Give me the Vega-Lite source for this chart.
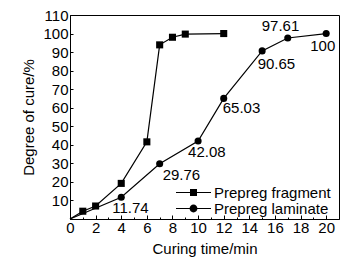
{
  "$schema": "https://vega.github.io/schema/vega-lite/v6.json",
  "width": 269,
  "height": 204,
  "autosize": "none",
  "padding": {"left": 70, "top": 15, "right": 23, "bottom": 43},
  "background": "white",
  "config": {
    "font": "Liberation Sans",
    "view": {"stroke": "black", "strokeWidth": 1},
    "axis": {"grid": false, "domainColor": "black", "tickColor": "black", "labelColor": "black", "titleColor": "black", "labelFont": "Liberation Sans", "titleFont": "Liberation Sans", "labelFontSize": 15, "titleFontSize": 15, "titleFontWeight": "normal"}
  },
  "datasets": {
    "curves": [
      {"series": "Prepreg fragment", "t": 0, "cure": 0},
      {"series": "Prepreg fragment", "t": 1, "cure": 4.2},
      {"series": "Prepreg fragment", "t": 2, "cure": 7},
      {"series": "Prepreg fragment", "t": 4, "cure": 19.2},
      {"series": "Prepreg fragment", "t": 6, "cure": 41.6},
      {"series": "Prepreg fragment", "t": 7, "cure": 93.9},
      {"series": "Prepreg fragment", "t": 8, "cure": 98},
      {"series": "Prepreg fragment", "t": 9, "cure": 99.7},
      {"series": "Prepreg fragment", "t": 12, "cure": 100},
      {"series": "Prepreg laminate", "t": 0, "cure": 0},
      {"series": "Prepreg laminate", "t": 4, "cure": 11.74},
      {"series": "Prepreg laminate", "t": 7, "cure": 29.76},
      {"series": "Prepreg laminate", "t": 10, "cure": 42.08},
      {"series": "Prepreg laminate", "t": 12, "cure": 65.03},
      {"series": "Prepreg laminate", "t": 15, "cure": 90.65},
      {"series": "Prepreg laminate", "t": 17, "cure": 97.61},
      {"series": "Prepreg laminate", "t": 20, "cure": 100}
    ]
  },
  "data": {"name": "curves"},
  "encoding": {
    "x": {
      "field": "t", "type": "quantitative",
      "scale": {"domain": [0, 21], "nice": false, "zero": false},
      "axis": {
        "title": "Curing time/min",
        "values": [0,1,2,3,4,5,6,7,8,9,10,11,12,13,14,15,16,17,18,19,20],
        "labelExpr": "datum.value % 2 === 0 ? datum.label : ''",
        "tickSize": {"condition": {"test": "datum.value % 2 === 0", "value": -4}, "value": -2},
        "labelPadding": 5,
        "labelFlush": false,
        "labelOverlap": false,
        "titlePadding": 4
      }
    },
    "y": {
      "field": "cure", "type": "quantitative",
      "scale": {"domain": [0, 110], "nice": false},
      "axis": {
        "title": "Degree of cure/%",
        "values": [10,20,30,40,50,60,70,80,90,100,110],
        "tickSize": -3,
        "labelPadding": 5,
        "labelFlush": false,
        "labelOverlap": false,
        "titlePadding": 6
      }
    }
  },
  "layer": [
    {
      "mark": {"type": "line", "color": "black", "strokeWidth": 1.2},
      "encoding": {"detail": {"field": "series", "type": "nominal"}}
    },
    {
      "transform": [{"filter": "datum.t > 0"}],
      "mark": {"type": "point", "filled": true, "color": "black", "opacity": 1, "size": 50},
      "encoding": {
        "shape": {"field": "series", "type": "nominal", "scale": {"domain": ["Prepreg fragment", "Prepreg laminate"], "range": ["square", "circle"]}, "legend": null}
      }
    },
    {
      "mark": {"type": "point", "filled": true, "color": "black", "opacity": 0},
      "encoding": {
        "shape": {
          "field": "series", "type": "nominal",
          "scale": {"domain": ["Prepreg fragment", "Prepreg laminate"], "range": ["M-5,-0.17L5,-0.17L5,0.17L-5,0.17ZM-1,-1L1,-1L1,1L-1,1Z", "M-5,-0.17L5,-0.17L5,0.17L-5,0.17ZM1.12,0A1.12,1.12,0,1,1,-1.12,0A1.12,1.12,0,1,1,1.12,0Z"]},
          "legend": {
            "title": null,
            "orient": "none",
            "legendX": 116,
            "legendY": 170,
            "symbolSize": 49,
            "symbolOpacity": 1,
            "symbolFillColor": "black",
            "labelFont": "Liberation Sans",
            "labelFontSize": 15,
            "labelColor": "black",
            "labelOffset": 13,
            "rowPadding": -8
          }
        }
      }
    },
    {
      "transform": [{"filter": "datum.series === 'Prepreg laminate' && datum.t === 4"}],
      "mark": {"type": "text", "align": "left", "baseline": "middle", "dx": -9, "dy": 11, "fontSize": 15, "font": "Liberation Sans", "color": "black"},
      "encoding": {"text": {"field": "cure", "type": "nominal"}}
    },
    {
      "transform": [{"filter": "datum.series === 'Prepreg laminate' && datum.t === 7"}],
      "mark": {"type": "text", "align": "left", "baseline": "middle", "dx": 3, "dy": 11, "fontSize": 15, "font": "Liberation Sans", "color": "black"},
      "encoding": {"text": {"field": "cure", "type": "nominal"}}
    },
    {
      "transform": [{"filter": "datum.series === 'Prepreg laminate' && datum.t === 10"}],
      "mark": {"type": "text", "align": "left", "baseline": "middle", "dx": -10, "dy": 11.5, "fontSize": 15, "font": "Liberation Sans", "color": "black"},
      "encoding": {"text": {"field": "cure", "type": "nominal"}}
    },
    {
      "transform": [{"filter": "datum.series === 'Prepreg laminate' && datum.t === 12"}],
      "mark": {"type": "text", "align": "left", "baseline": "middle", "dx": -1, "dy": 10, "fontSize": 15, "font": "Liberation Sans", "color": "black"},
      "encoding": {"text": {"field": "cure", "type": "nominal"}}
    },
    {
      "transform": [{"filter": "datum.series === 'Prepreg laminate' && datum.t === 15"}],
      "mark": {"type": "text", "align": "left", "baseline": "middle", "dx": -4.5, "dy": 13, "fontSize": 15, "font": "Liberation Sans", "color": "black"},
      "encoding": {"text": {"field": "cure", "type": "nominal"}}
    },
    {
      "transform": [{"filter": "datum.series === 'Prepreg laminate' && datum.t === 17"}],
      "mark": {"type": "text", "align": "left", "baseline": "middle", "dx": -26, "dy": -12, "fontSize": 15, "font": "Liberation Sans", "color": "black"},
      "encoding": {"text": {"field": "cure", "type": "nominal"}}
    },
    {
      "transform": [{"filter": "datum.series === 'Prepreg laminate' && datum.t === 20"}],
      "mark": {"type": "text", "align": "left", "baseline": "middle", "dx": -16, "dy": 12, "fontSize": 15, "font": "Liberation Sans", "color": "black"},
      "encoding": {"text": {"field": "cure", "type": "nominal"}}
    }
  ],
  "resolve": {"scale": {"shape": "independent"}}
}
